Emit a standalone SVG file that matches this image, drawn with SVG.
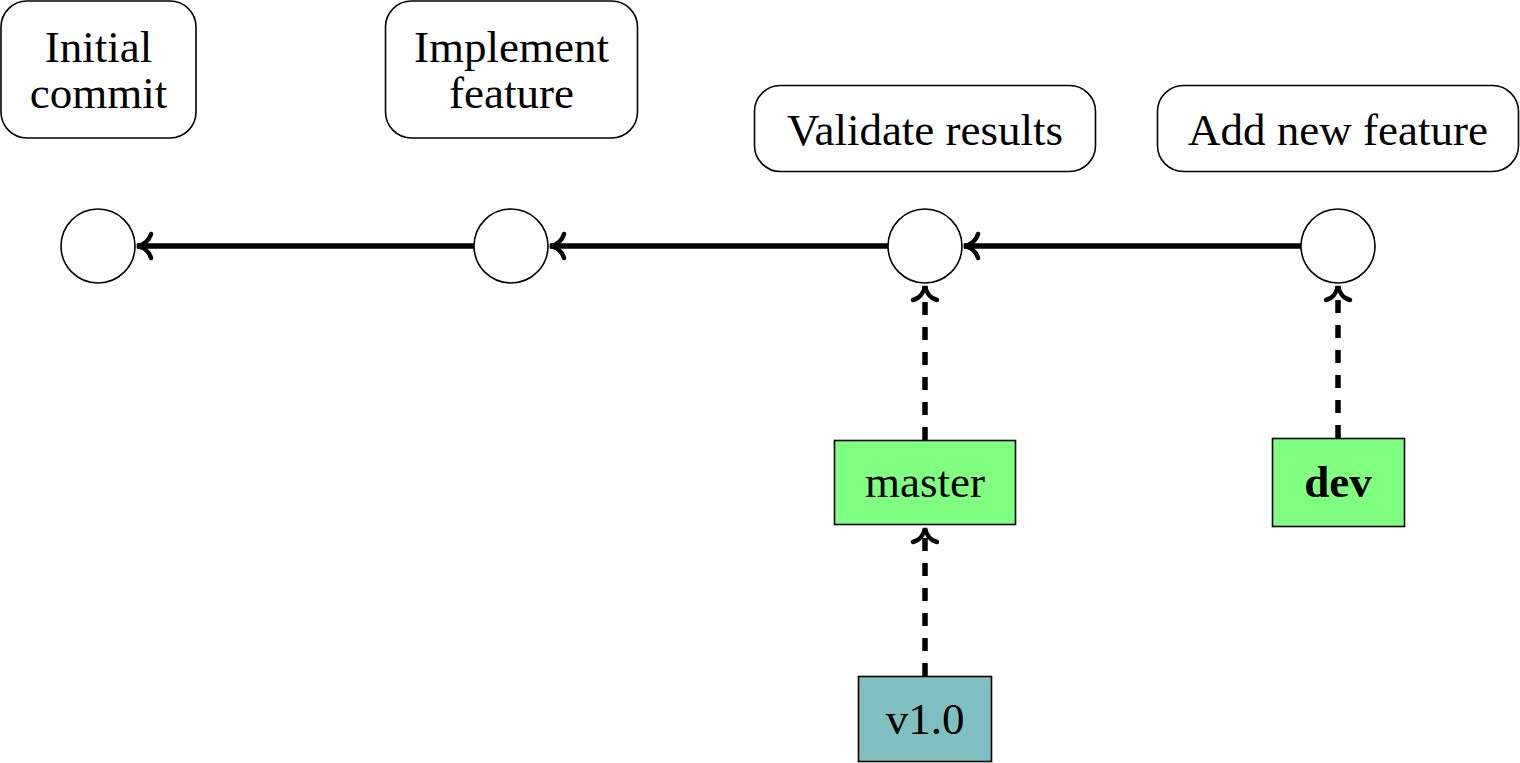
<svg xmlns="http://www.w3.org/2000/svg" width="1520" height="763" viewBox="0 0 1520 763">
<style>
text{font-family:"Liberation Serif","Times New Roman",serif;font-size:45px;fill:#000;text-anchor:middle}
.label{fill:#fff;stroke:#000;stroke-width:1.6}
.commit{fill:#fff;stroke:#000;stroke-width:1.6}
.branch{fill:#80ff80;stroke:#000;stroke-width:1.6}
.tag{fill:#80bfbf;stroke:#000;stroke-width:1.6}
.edge{fill:none;stroke:#000;stroke-width:5.5}
.ref{fill:none;stroke:#000;stroke-width:5.5;stroke-dasharray:13 12}
</style>
<defs>
<marker id="to" markerUnits="userSpaceOnUse" markerWidth="24" markerHeight="30" viewBox="-20 -15 24 30" refX="0" refY="0" orient="auto" overflow="visible">
<path d="M-14,-12 C-12,-5 -6,-1 0,0 C-6,1 -12,5 -14,12" fill="none" stroke="#000" stroke-width="4.5" stroke-linecap="round" stroke-dasharray="none"/>
</marker>
</defs>
<g id="label-initial"><rect class="label" x="1" y="1" width="195" height="137" rx="26"/><text x="98.5" y="62">Initial</text><text x="98.5" y="108">commit</text></g>
<g id="label-implement"><rect class="label" x="385.5" y="1" width="252" height="137" rx="26"/><text x="511.5" y="62">Implement</text><text x="511.5" y="108">feature</text></g>
<g id="label-validate"><rect class="label" x="754.5" y="85.5" width="341" height="86" rx="26"/><text x="925" y="145">Validate results</text></g>
<g id="label-add"><rect class="label" x="1157.5" y="85.5" width="361" height="86" rx="26"/><text x="1338" y="145">Add new feature</text></g>
<g id="c1"><circle class="commit" cx="98" cy="246" r="37"/></g>
<g id="c2"><circle class="commit" cx="511" cy="246" r="37"/></g>
<g id="c3"><circle class="commit" cx="925" cy="246" r="37"/></g>
<g id="c4"><circle class="commit" cx="1338" cy="246" r="37"/></g>
<g id="master"><rect class="branch" x="834.5" y="440.5" width="181" height="84"/><text x="925" y="497">master</text></g>
<g id="dev"><rect class="branch" x="1272.5" y="438.5" width="132" height="88"/><text x="1338" y="497" font-weight="bold">dev</text></g>
<g id="v1"><rect class="tag" x="858.5" y="676.5" width="133" height="85"/><text x="925" y="734">v1.0</text></g>
<g id="connectors">
<path class="edge" d="M474,246 L137,246" marker-end="url(#to)"/>
<path class="edge" d="M888,246 L550,246" marker-end="url(#to)"/>
<path class="edge" d="M1301,246 L964,246" marker-end="url(#to)"/>
<path class="ref" d="M925,440 L925,286" marker-end="url(#to)"/>
<path class="ref" d="M1338,438 L1338,286" marker-end="url(#to)"/>
<path class="ref" d="M925,676 L925,528" marker-end="url(#to)"/>
</g>
</svg>
